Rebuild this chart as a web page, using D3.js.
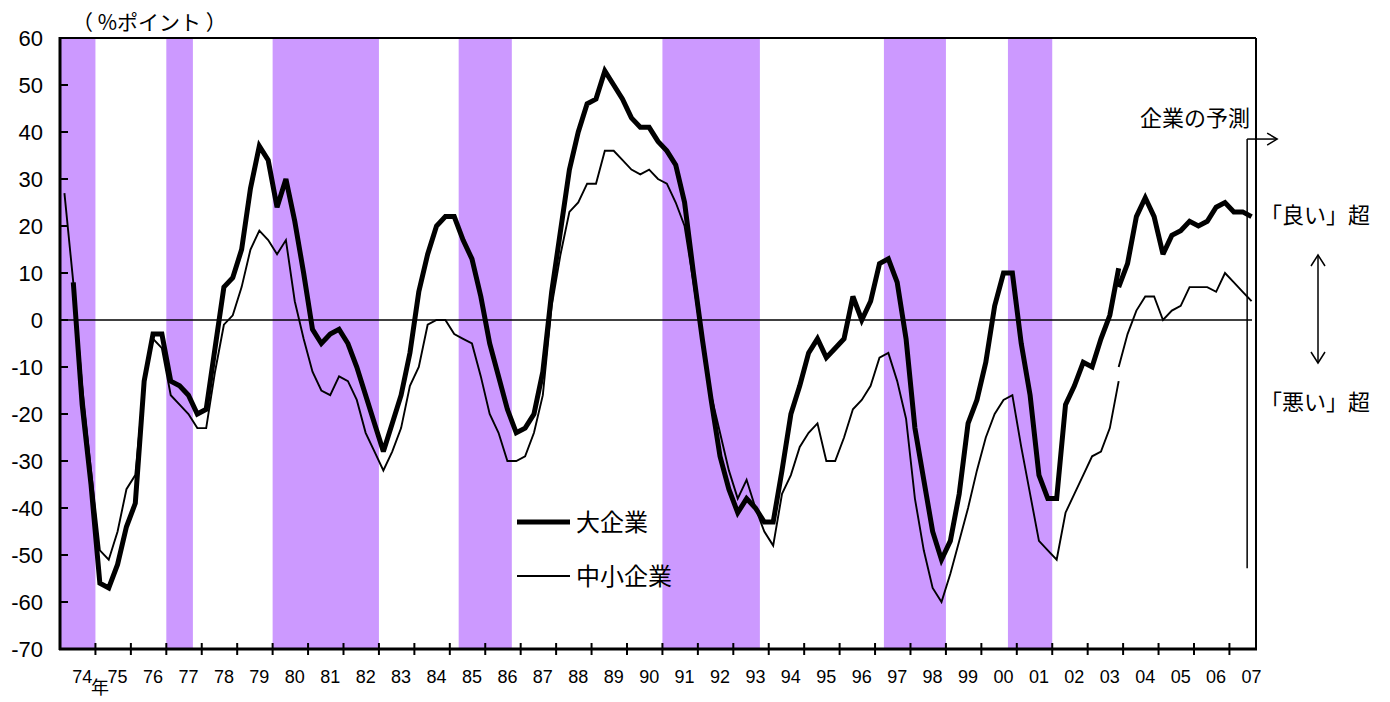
<!DOCTYPE html>
<html><head><meta charset="utf-8">
<script src="https://cdn.jsdelivr.net/npm/d3@7"></script>
<style>body{margin:0;background:#fff} svg{display:block}</style>
</head><body><svg id="c" width="1390" height="702"></svg>
<script>
// ---------------- data ----------------
const yearLabels = ["74","75","76","77","78","79","80","81","82","83","84","85","86","87","88","89","90",
  "91","92","93","94","95","96","97","98","99","00","01","02","03","04","05","06","07"];
const quarters = [];
for (let y = 1974; y <= 2007; y++) for (let q = 1; q <= 4; q++) { if (y === 2007 && q > 3) break; quarters.push(y + "Q" + q); }

// 大企業 (old basis) 1974Q1 - 2003Q4
const largeOld = [null, 8, -18, -35, -56, -57, -52, -44, -39, -13,
  -3, -3, -13, -14, -16, -20, -19, -6, 7, 9,
  15, 28, 37, 34, 24, 30, 21, 10, -2, -5,
  -3, -2, -5, -10, -16, -22, -28, -22, -16, -7,
  6, 14, 20, 22, 22, 17, 13, 5, -5, -12,
  -19, -24, -23, -20, -11, 6, 19, 32, 40, 46,
  47, 53, 50, 47, 43, 41, 41, 38, 36, 33,
  25, 10, -4, -17, -29, -36, -41, -38, -40, -43,
  -43, -32, -20, -14, -7, -4, -8, -6, -4, 5,
  0, 4, 12, 13, 8, -4, -23, -34, -45, -51,
  -47, -37, -22, -17, -9, 3, 10, 10, -5, -16,
  -33, -38, -38, -18, -14, -9, -10, -4, 1, 11];
// 中小企業 (old basis) 1974Q1 - 2003Q4
const smallOld = [27, 8, -14, -32, -49, -51, -45, -36, -33, -13,
  -4, -6, -16, -18, -20, -23, -23, -11, -1, 1,
  7, 15, 19, 17, 14, 17, 4, -4, -11, -15,
  -16, -12, -13, -17, -24, -28, -32, -28, -23, -14,
  -10, -1, 0, 0, -3, -4, -5, -12, -20, -24,
  -30, -30, -29, -24, -16, 3, 14, 23, 25, 29,
  29, 36, 36, 34, 32, 31, 32, 30, 29, 25,
  20, 8, -5, -16, -24, -32, -38, -34, -40, -45,
  -48, -37, -33, -27, -24, -22, -30, -30, -25, -19,
  -17, -14, -8, -7, -13, -21, -38, -49, -57, -60,
  -54, -47, -40, -32, -25, -20, -17, -16, -27, -37,
  -47, -49, -51, -41, -37, -33, -29, -28, -23, -13];
// new basis 2003Q4 - 2007Q3 (last = forecast)
const largeNew = [7, 12, 22, 26, 22, 14, 18, 19, 21, 20, 21, 24, 25, 23, 23, 22];
const smallNew = [-10, -3, 2, 5, 5, 0, 2, 3, 7, 7, 7, 6, 10, 8, 6, 4];
const newStart = "2003Q4";
const forecastStart = "2007Q3";
// recession periods (inclusive quarters)
const recessions = [["1974Q1","1974Q4"],["1977Q1","1977Q3"],["1980Q1","1982Q4"],["1985Q2","1986Q3"],
  ["1991Q1","1993Q3"],["1997Q2","1998Q4"],["2000Q4","2001Q4"]];
const yTicks = [60,50,40,30,20,10,0,-10,-20,-30,-40,-50,-60,-70];

// ---------------- layout ----------------
const L = 60, R = 1256, T = 38, B = 649;
const svg = d3.select("#c");
const x = d3.scaleBand().domain(quarters).range([L, R]).paddingInner(0).paddingOuter(0);
const bw = x.bandwidth();
const xc = q => x(q) + bw / 2;
const y = d3.scaleLinear().domain([-70, 60]).range([B, T]);
const JP = "'Noto Sans CJK JP','Noto Sans',sans-serif";
const NUM = "'Liberation Sans',Arial,sans-serif";

// recession shading
svg.append("g").selectAll("rect").data(recessions).join("rect")
  .attr("x", d => x(d[0])).attr("width", d => x(d[1]) + bw - x(d[0]))
  .attr("y", T).attr("height", B - T).attr("fill", "#CC99FF");

// zero line
svg.append("line").attr("x1", L).attr("x2", x(forecastStart) + bw - 4).attr("y1", y(0)).attr("y2", y(0))
  .attr("stroke", "#000").attr("stroke-width", 1.6);

// series
const idx = q => quarters.indexOf(q);
const oldPts = (arr) => arr.map((v, i) => ({q: quarters[i], v}));
const newPts = (arr) => arr.map((v, i) => ({q: quarters[idx(newStart) + i], v}));
const line = d3.line().defined(d => d.v !== null).x(d => xc(d.q)).y(d => y(d.v));
const g = svg.append("g").attr("fill", "none").attr("stroke", "#000");
[[smallOld, oldPts, 1.9], [smallNew, newPts, 1.9], [largeOld, oldPts, 5], [largeNew, newPts, 5]].forEach(([arr, f, w]) => {
  g.append("path").datum(f(arr)).attr("d", line).attr("stroke-width", w)
    .attr("stroke-linejoin", "miter").attr("stroke-miterlimit", 3);
});

// frame
svg.append("line").attr("x1", L).attr("x2", R).attr("y1", T).attr("y2", T).attr("stroke", "#000").attr("stroke-width", 2);
svg.append("line").attr("x1", R).attr("x2", R).attr("y1", T).attr("y2", B).attr("stroke", "#000").attr("stroke-width", 2);

// y axis
const yAxis = svg.append("g");
yAxis.append("line").attr("x1", L).attr("x2", L).attr("y1", T - 1).attr("y2", B + 1).attr("stroke", "#000").attr("stroke-width", 3);
yAxis.selectAll("line.t").data(yTicks).join("line").attr("class", "t")
  .attr("x1", L).attr("x2", L + 8).attr("y1", d => y(d)).attr("y2", d => y(d)).attr("stroke", "#000").attr("stroke-width", 2);
yAxis.selectAll("text").data(yTicks).join("text")
  .attr("x", 43).attr("y", d => y(d)).attr("dy", "0.36em").attr("text-anchor", "end")
  .attr("font-family", NUM).attr("font-size", 22).text(d => d);

// x axis
const xAxis = svg.append("g");
xAxis.append("line").attr("x1", L - 1).attr("x2", R + 1).attr("y1", B).attr("y2", B).attr("stroke", "#000").attr("stroke-width", 3);
const tickQs = yearLabels.slice(1).map((d, i) => (1975 + i) + "Q1");
xAxis.selectAll("line.t").data(tickQs).join("line").attr("class", "t")
  .attr("x1", d => x(d)).attr("x2", d => x(d)).attr("y1", B - 6).attr("y2", B + 6).attr("stroke", "#000").attr("stroke-width", 2);
xAxis.selectAll("text").data(yearLabels).join("text")
  .attr("x", (d, i) => xc((1974 + i) + "Q3")).attr("y", 677).attr("dy", "0.36em").attr("text-anchor", "middle")
  .attr("font-family", NUM).attr("font-size", 18).text(d => d);
svg.append("text").attr("x", 100).attr("y", 688).attr("dy", "0.36em").attr("text-anchor", "middle")
  .attr("font-family", JP).attr("font-size", 18).text("年");

// unit label
svg.append("text").attr("x", 72).attr("y", 22).attr("dy", "0.36em")
  .attr("font-family", JP).attr("font-size", 21).text("（ %ポイント ）");

// legend
const leg = svg.append("g");
[["大企業", 5, 522], ["中小企業", 1.9, 576]].forEach(([t, w, yy]) => {
  leg.append("line").attr("x1", 517).attr("x2", 570).attr("y1", yy).attr("y2", yy).attr("stroke", "#000").attr("stroke-width", w);
  leg.append("text").attr("x", 576).attr("y", yy).attr("dy", "0.36em").attr("font-family", JP).attr("font-size", 24).text(t);
});

// forecast marker
const fx = x(forecastStart);
const fy = y(38.5);
svg.append("line").attr("x1", fx).attr("x2", fx).attr("y1", fy).attr("y2", y(-52.8)).attr("stroke", "#000").attr("stroke-width", 1.5);
svg.append("line").attr("x1", fx).attr("x2", fx + 30).attr("y1", fy).attr("y2", fy).attr("stroke", "#000").attr("stroke-width", 1.5);
svg.append("path").attr("d", `M${fx + 20},${fy - 6} L${fx + 30},${fy} L${fx + 20},${fy + 6}`)
  .attr("fill", "none").attr("stroke", "#000").attr("stroke-width", 1.5);
svg.append("text").attr("x", 1250).attr("y", 118).attr("dy", "0.36em").attr("text-anchor", "end")
  .attr("font-family", JP).attr("font-size", 22).text("企業の予測");

// good / bad annotation
svg.append("text").attr("x", 1260).attr("y", 215).attr("dy", "0.36em").attr("font-family", JP).attr("font-size", 22).text("「良い」超");
svg.append("text").attr("x", 1260).attr("y", 402).attr("dy", "0.36em").attr("font-family", JP).attr("font-size", 22).text("「悪い」超");
const ax = 1318, ay1 = 255, ay2 = 363;
svg.append("line").attr("x1", ax).attr("x2", ax).attr("y1", ay1).attr("y2", ay2).attr("stroke", "#000").attr("stroke-width", 1.5);
svg.append("path").attr("d", `M${ax - 7},${ay1 + 11} L${ax},${ay1} L${ax + 7},${ay1 + 11} M${ax - 7},${ay2 - 11} L${ax},${ay2} L${ax + 7},${ay2 - 11}`)
  .attr("fill", "none").attr("stroke", "#000").attr("stroke-width", 1.5);
</script></body></html>
